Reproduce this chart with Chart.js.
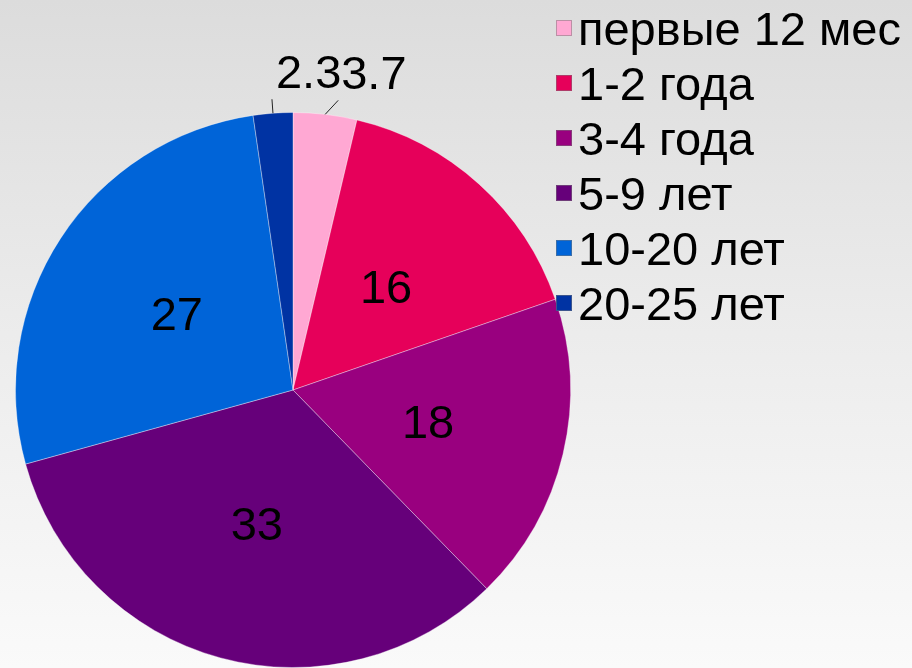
<!DOCTYPE html>
<html lang="ru">
<head>
  <meta charset="UTF-8">
  <title>Стаж</title>
  <script src="https://cdn.jsdelivr.net/npm/chart.js"></script>
  <style>
    html, body { margin: 0; padding: 0; overflow: hidden; }
    body { width: 912px; height: 668px; background: linear-gradient(to bottom, #dcdcdc 0%, #ececec 50%, #fafafa 100%); }
    canvas { display: block; }
  </style>
</head>
<body>

<canvas id="pieChart" width="912" height="668"></canvas>

<script>
  const categories = ['первые 12 мес', '1-2 года', '3-4 года', '5-9 лет', '10-20 лет', '20-25 лет'];
  const values = [3.7, 16, 18, 33, 27, 2.3];
  const colors = ['#ffa8d3', '#e6005a', '#99007f', '#66007a', '#0064d8', '#0033a3'];

  const FONT = '47px "Liberation Sans", Arial, sans-serif';

  // values on the slices, small ones outside with a leader line
  const sliceLabels = {
    id: 'sliceLabels',
    afterDatasetsDraw(chart) {
      const ctx = chart.ctx;
      const meta = chart.getDatasetMeta(0);
      ctx.save();
      ctx.font = FONT;
      ctx.fillStyle = '#000';
      meta.data.forEach((arc, i) => {
        const v = values[i];
        const text = String(v);
        if (v >= 5) {
          const p = arc.tooltipPosition();
          ctx.textAlign = 'center';
          ctx.textBaseline = 'alphabetic';
          ctx.fillText(text, p.x, p.y + 16);
        } else {
          const mid = (arc.startAngle + arc.endAngle) / 2;
          const sx = arc.x + Math.cos(mid) * arc.outerRadius;
          const sy = arc.y + Math.sin(mid) * arc.outerRadius;
          const right = Math.cos(mid) > 0;
          const ex = sx + (right ? 13 : -1);
          const ey = sy - 14;
          ctx.strokeStyle = '#222';
          ctx.lineWidth = 1;
          ctx.beginPath();
          ctx.moveTo(sx, sy);
          ctx.lineTo(ex, ey);
          ctx.stroke();
          ctx.textAlign = 'left';
          ctx.textBaseline = 'alphabetic';
          ctx.fillText(text, ex + (right ? 3 : 4), ey - 11);
        }
      });
      ctx.restore();
    }
  };

  // legend on the right, drawn by hand to match the original
  const sideLegend = {
    id: 'sideLegend',
    afterDraw(chart) {
      const ctx = chart.ctx;
      ctx.save();
      ctx.font = FONT;
      ctx.textAlign = 'left';
      ctx.textBaseline = 'alphabetic';
      chart.data.labels.forEach((label, i) => {
        const base = 45 + i * 55;
        ctx.fillStyle = colors[i];
        ctx.fillRect(556, base - 25, 16, 16);
        ctx.strokeStyle = 'rgba(120,120,120,0.5)';
        ctx.lineWidth = 1;
        ctx.strokeRect(556.5, base - 24.5, 15, 15);
        ctx.fillStyle = '#000';
        ctx.fillText(label, 578, base);
      });
      ctx.restore();
    }
  };

  const ctx = document.getElementById('pieChart').getContext('2d');
  new Chart(ctx, {
    type: 'pie',
    data: {
      labels: categories,
      datasets: [{
        data: values,
        backgroundColor: colors,
        borderColor: 'rgba(255,255,255,0.35)',
        borderWidth: 1
      }]
    },
    options: {
      responsive: false,
      animation: false,
      layout: { padding: { left: 15, top: 112, right: 341, bottom: 0 } },
      plugins: {
        legend: { display: false },
        tooltip: { enabled: false }
      }
    },
    plugins: [sliceLabels, sideLegend]
  });
</script>

</body>
</html>
